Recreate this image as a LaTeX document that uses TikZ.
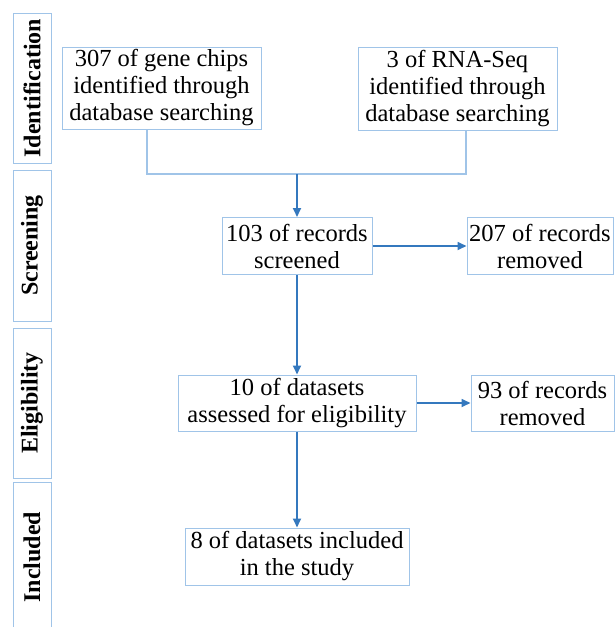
\documentclass[tikz,border=0pt]{standalone}
\usepackage{fontspec}
\setmainfont{Liberation Serif}
\usetikzlibrary{arrows.meta,positioning}
\definecolor{lightbd}{RGB}{160,196,232}
\definecolor{arrowblue}{RGB}{52,120,190}
\begin{document}
\begin{tikzpicture}[x=1pt,y=-1pt,
  box/.style={draw=lightbd,line width=1pt,inner sep=0pt,align=center,
    font=\rmfamily\fontsize{24.5}{27}\selectfont},
  stage/.style={draw=lightbd,line width=1pt,inner sep=0pt,rotate=90,
    minimum height=38pt,font=\rmfamily\fontsize{24}{26}\selectfont\bfseries},
  flow/.style={draw=arrowblue,line width=1.7pt,-{Triangle[length=9pt,width=8pt]}},
  feed/.style={draw=lightbd,line width=1.3pt}]
\useasboundingbox (0,0) rectangle (615,627);
\begin{scope}
\clip (0,0) rectangle (615,627);
\node[stage,minimum width=150pt] (s1) at (32,88) {Identification};
\node[stage,minimum width=151pt] (s2) at (32,245.5) {Screening};
\node[stage,minimum width=150pt] (s3) at (32,403) {Eligibility};
\node[stage,minimum width=150pt] (s4) at (32,557) {Included};
\end{scope}

\node[box,minimum width=199pt,minimum height=82pt] (b1) at (161.5,88)
  {307 of gene chips\\identified through\\database searching};
\node[box,minimum width=199pt,minimum height=83pt] (b2) at (457.5,88.5)
  {3 of RNA-Seq\\identified through\\database searching};
\node[box,minimum width=150pt,minimum height=57pt] (b103) at (297,246)
  {103 of records\\screened};
\node[box,minimum width=146pt,minimum height=57pt] (b207) at (540,246)
  {207 of records\\removed};
\node[box,minimum width=238pt,minimum height=56pt] (b10) at (297,403)
  {10 of datasets\\assessed for eligibility};
\node[box,minimum width=143pt,minimum height=56pt] (b93) at (542.5,403)
  {93 of records\\removed};
\node[box,minimum width=224pt,minimum height=57pt] (b8) at (297,556.5)
  {8 of datasets included\\in the study};

\coordinate (j) at (297,174);
\draw[feed] ([xshift=-14.5pt]b1.south) |- (j) -| ([xshift=8.5pt]b2.south);
\draw[flow] (j) -- (b103.north);
\draw[flow] (b103.east) -- (b207.west);
\draw[flow] (b103.south) -- (b10.north);
\draw[flow] (b10.east) -- (b93.west);
\draw[flow] (b10.south) -- (b8.north);
\end{tikzpicture}
\end{document}
